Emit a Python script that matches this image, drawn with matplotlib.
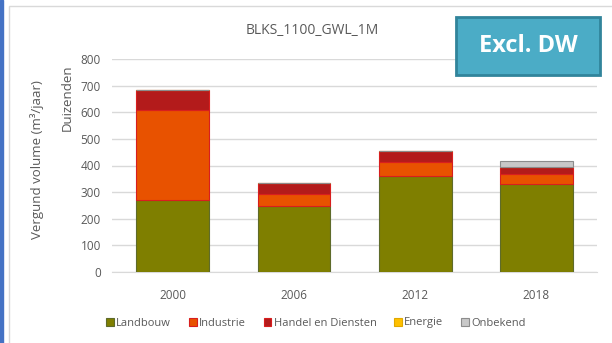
import matplotlib.pyplot as plt
import numpy as np
from matplotlib.patches import Rectangle

years = ["2000", "2006", "2012", "2018"]
landbouw = [270, 248, 361, 331]
industrie = [339, 45, 52, 37]
handel = [75, 42, 42, 26]
energie = [0, 0, 0, 0]
onbekend = [0, 0, 0, 24]

series = [
    ("Landbouw", landbouw, "#7F7F00", "#5E6B2A"),
    ("Industrie", industrie, "#E85200", "#D81E1E"),
    ("Handel en Diensten", handel, "#B31B1B", "#D81E1E"),
    ("Energie", energie, "#FFC000", "#E0A800"),
    ("Onbekend", onbekend, "#C8C8C8", "#8C8C8C"),
]

plt.rcParams["font.family"] = ["Open Sans", "DejaVu Sans"]
fig = plt.figure(figsize=(6.12, 3.43), dpi=100)
ax = fig.add_axes([112 / 612, 71 / 343, 485 / 612, 213 / 343])

x = np.arange(len(years))
bottom = np.zeros(len(years))
for name, vals, color, edge in series:
    vals = np.array(vals, dtype=float)
    ax.bar(x, vals, bottom=bottom, width=0.6, color=color, edgecolor=edge,
           linewidth=0.8, label=name, zorder=3)
    bottom += vals

ax.set_ylim(0, 800)
ax.set_xlim(-0.5, len(years) - 0.5)
ax.set_yticks(range(0, 801, 100))
ax.set_xticks(x)
ax.set_xticklabels(years)
ax.tick_params(axis="y", length=0, colors="#595959", labelsize=8.5, pad=8)
ax.tick_params(axis="x", length=0, colors="#595959", labelsize=8.5, pad=12)
ax.grid(axis="y", color="#D9D9D9", linewidth=1, zorder=0)
for s in ["top", "right", "left"]:
    ax.spines[s].set_visible(False)
ax.spines["bottom"].set_color("#D9D9D9")

fig.text(37 / 612, 1 - 160 / 343, "Vergund volume (m³/jaar)", rotation=90,
         ha="center", va="center", fontsize=9.5, color="#595959")
fig.text(67 / 612, 1 - 98 / 343, "Duizenden", rotation=90,
         ha="center", va="center", fontsize=9.5, color="#595959")
fig.text(312 / 612, 1 - 30 / 343, "BLKS_1100_GWL_1M", ha="center", va="center",
         fontsize=10, color="#595959")

# framing lines
fig.patches.append(Rectangle((0, 0), 3 / 612, 1, transform=fig.transFigure,
                             color="#4472C4", zorder=0))
fig.patches.append(Rectangle((9 / 612, -0.01), 0.99, 1 - 6 / 343 + 0.01,
                             transform=fig.transFigure, fill=False,
                             edgecolor="#D9D9D9", linewidth=1))

# "Excl. DW" label box
fig.patches.append(Rectangle((456 / 612, 1 - 75 / 343), 144 / 612, 58 / 343,
                             transform=fig.transFigure, facecolor="#4BACC6",
                             edgecolor="#31849B", linewidth=2, zorder=5))
fig.text(528 / 612, 1 - 46 / 343, "Excl. DW", ha="center", va="center",
         fontsize=17, fontweight="bold", color="white", zorder=6)

handles, labels = ax.get_legend_handles_labels()
fig.legend(handles, labels, loc="center", bbox_to_anchor=(316 / 612, 1 - 323 / 343),
           ncol=5, frameon=False, fontsize=8, handlelength=0.7,
           handleheight=0.7, handletextpad=0.2, columnspacing=1.6,
           labelcolor="#595959")

fig.savefig("out.png", dpi=100)
